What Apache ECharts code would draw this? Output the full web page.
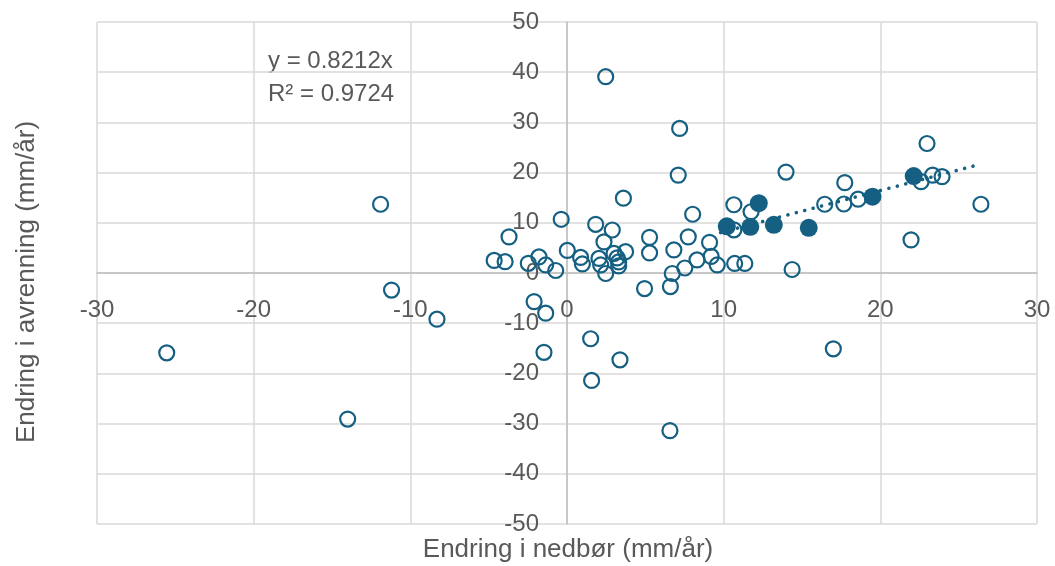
<!DOCTYPE html>
<html>
<head>
<meta charset="utf-8">
<script src="https://cdn.jsdelivr.net/npm/echarts@6/dist/echarts.min.js"></script>
<style>
html,body{margin:0;padding:0;background:#fff;}
#main{width:1055px;height:566px;}
</style>
</head>
<body>
<div id="main"></div>
<script>
// nedbør (x) / avrenning (y), åpne punkter
var openPoints = [
	[-25.55, -15.9], [-14.0, -29.1], [-11.9, 13.7], [-11.2, -3.4], [-8.3, -9.2],
	[-4.65, 2.5], [-3.95, 2.25], [-3.7, 7.2], [-2.47, 1.93], [-1.79, 3.2], [-1.36, 1.6], [-0.72, 0.5],
	[-0.37, 10.7], [0.02, 4.5], [0.87, 3.1], [0.98, 1.8],
	[-2.1, -5.7], [-1.36, -8.0], [-1.47, -15.8],
	[1.51, -13.1], [1.57, -21.4], [3.38, -17.3], [6.57, -31.4],
	[1.83, 9.7], [2.36, 6.2], [2.89, 8.57], [2.04, 2.9], [2.15, 1.6], [2.47, -0.1],
	[3.0, 3.9], [3.2, 3.0], [3.3, 2.2], [3.3, 1.4], [3.74, 4.25], [3.6, 14.9],
	[2.47, 39.1], [7.19, 28.8], [7.1, 19.5],
	[4.95, -3.1], [6.6, -2.7], [5.27, 7.1], [5.27, 4.0], [6.72, -0.1], [6.82, 4.6],
	[7.52, 1.0], [7.74, 7.2], [8.02, 11.7], [8.3, 2.6], [9.1, 6.1], [9.2, 3.3], [9.59, 1.6],
	[10.65, 8.6], [10.65, 13.6], [10.7, 1.9], [11.35, 1.9], [11.75, 12.2], [14.37, 0.7],
	[13.98, 20.1], [16.45, 13.7], [17.67, 13.75], [17.73, 18.0], [18.58, 14.7],
	[22.98, 25.8], [22.6, 18.2], [23.34, 19.5], [23.94, 19.2], [26.42, 13.7], [21.96, 6.6],
	[17.0, -15.1]
];
// fylte punkter
var filledPoints = [
	[10.2, 9.3], [11.7, 9.2], [12.24, 13.9], [13.2, 9.6], [15.43, 9.0], [19.5, 15.2], [22.13, 19.3]
];
// trendlinje y = 0.8212x
var slope = 0.8212;
var trendX = [9.8, 26.2];
var xTicks = [-30, 30, 10];
var yTicks = [-50, 50, 10];

var trendData = trendX.map(function (x) { return [x, slope * x]; });

var color = '#156082';
var textColor = '#595959';
var font = '"Liberation Sans", Arial, sans-serif';

// plot area
var gLeft = 97, gRight = 18, gTop = 22, gBottom = 42;
var W = 1055, H = 566;
var plotW = W - gLeft - gRight, plotH = H - gTop - gBottom;
// move axes onto the zero lines
var xOffset = -plotH * (0 - yTicks[0]) / (yTicks[1] - yTicks[0]);
var yOffset = -plotW * (0 - xTicks[0]) / (xTicks[1] - xTicks[0]);

var myChart = echarts.init(document.getElementById('main'));
var option = {
	animation: false,
	grid: { left: gLeft, right: gRight, top: gTop, bottom: gBottom, outerBoundsMode: 'none', containLabel: false },
	xAxis: {
		type: 'value',
		position: 'bottom',
		offset: xOffset,
		min: xTicks[0], max: xTicks[1], interval: xTicks[2],
		axisLine: { onZero: false, lineStyle: { color: '#bfbfbf', width: 1.5 } },
		axisTick: { show: false },
		axisLabel: { color: textColor, fontSize: 24, fontFamily: font, margin: 25, showMinLabel: true, showMaxLabel: true },
		splitLine: { lineStyle: { color: '#d9d9d9', width: 1.5 } }
	},
	yAxis: {
		type: 'value',
		position: 'left',
		offset: yOffset,
		min: yTicks[0], max: yTicks[1], interval: yTicks[2],
		axisLine: { onZero: false, lineStyle: { color: '#bfbfbf', width: 1.5 } },
		axisTick: { show: false },
		axisLabel: { color: textColor, fontSize: 24, fontFamily: font, margin: 28, showMinLabel: true, showMaxLabel: true },
		splitLine: { lineStyle: { color: '#d9d9d9', width: 1.5 } }
	},
	graphic: [
		{ type: 'text', left: 268, top: 49, style: { text: 'y = 0.8212x', fill: textColor, font: '24px ' + font } },
		{ type: 'text', left: 268, top: 82, style: { text: 'R² = 0.9724', fill: textColor, font: '24px ' + font } },
		{ type: 'text', x: 568, y: 550, style: { text: 'Endring i nedbør (mm/år)', fill: textColor, font: '26px ' + font, textAlign: 'center', textVerticalAlign: 'middle' } },
		{ type: 'text', x: 27, y: 282, rotation: Math.PI / 2, style: { text: 'Endring i avrenning (mm/år)', fill: textColor, font: '26px ' + font, textAlign: 'center', textVerticalAlign: 'middle' } }
	],
	series: [
		{
			type: 'scatter',
			data: openPoints,
			symbol: 'circle',
			symbolSize: 15,
			itemStyle: { color: 'rgba(255,255,255,0)', borderColor: color, borderWidth: 2.2, opacity: 1 },
			z: 2
		},
		{
			type: 'scatter',
			data: filledPoints,
			symbol: 'circle',
			symbolSize: 18,
			itemStyle: { color: color, opacity: 1 },
			z: 3
		},
		{
			type: 'line',
			data: trendData,
			symbol: 'none',
			lineStyle: { color: color, width: 3.5, type: [0.1, 8.6], cap: 'round' },
			z: 4
		}
	]
};
myChart.setOption(option);
</script>
</body>
</html>
